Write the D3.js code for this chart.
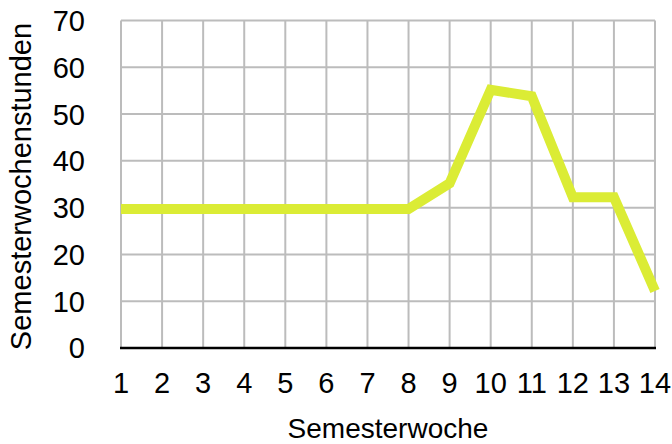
<!DOCTYPE html>
<html>
<head>
<meta charset="utf-8">
<script src="https://cdn.jsdelivr.net/npm/d3@7"></script>
<style>
  html, body { margin: 0; padding: 0; background: #fff; }
  text { font-family: "Liberation Sans", Arial, Helvetica, sans-serif; fill: #000; }
</style>
</head>
<body>
<div id="chart"></div>
<script>
// Semesterwochenstunden pro Semesterwoche
const weeks = [1, 2, 3, 4, 5, 6, 7, 8, 9, 10, 11, 12, 13, 14];
const hours = [29.7, 29.7, 29.7, 29.7, 29.7, 29.7, 29.7, 29.7, 35.2, 55.2, 53.8, 32.2, 32.2, 12.2];
const yTicks = [0, 10, 20, 30, 40, 50, 60, 70];

const width = 672, height = 444;
const m = { top: 20.5, right: 17, bottom: 96, left: 121 };
const iw = width - m.left - m.right;
const ih = height - m.top - m.bottom;

const svg = d3.select("#chart").append("svg")
  .attr("width", width).attr("height", height).attr("viewBox", `0 0 ${width} ${height}`);
const g = svg.append("g").attr("transform", `translate(${m.left},${m.top})`);

const x = d3.scaleLinear().domain([1, 14]).range([0, iw]);
const y = d3.scaleLinear().domain([0, 70]).range([ih, 0]);

// grid
g.append("g").selectAll("line").data(yTicks.filter((d) => d > 0)).join("line")
  .attr("x1", 0).attr("x2", iw).attr("y1", (d) => y(d)).attr("y2", (d) => y(d))
  .attr("stroke", "#bcbcbc").attr("stroke-width", 2);
g.append("g").selectAll("line").data(weeks).join("line")
  .attr("x1", (d) => x(d)).attr("x2", (d) => x(d)).attr("y1", 0).attr("y2", ih)
  .attr("stroke", "#bcbcbc").attr("stroke-width", 2);

// x axis line
g.append("line").attr("x1", -1).attr("x2", iw + 1).attr("y1", ih).attr("y2", ih)
  .attr("stroke", "#000").attr("stroke-width", 2.5);

// series
g.append("path").datum(weeks.map((w, i) => [w, hours[i]]))
  .attr("fill", "none").attr("stroke", "#dbec35").attr("stroke-width", 10)
  .attr("stroke-linejoin", "miter").attr("stroke-linecap", "butt")
  .attr("d", d3.line().x((d) => x(d[0])).y((d) => y(d[1])));

// tick labels
g.append("g").selectAll("text").data(yTicks).join("text")
  .attr("x", -36).attr("y", (d) => y(d)).attr("dy", "0.36em")
  .attr("text-anchor", "end").attr("font-size", 29)
  .text((d) => d);
g.append("g").selectAll("text").data(weeks).join("text")
  .attr("x", (d) => x(d)).attr("y", ih + 45)
  .attr("text-anchor", "middle").attr("font-size", 29)
  .text((d) => d);

// titles
svg.append("text").attr("x", m.left + iw / 2).attr("y", 438)
  .attr("text-anchor", "middle").attr("font-size", 28).text("Semesterwoche");
svg.append("text").attr("transform", `translate(31,186.5) rotate(-90)`)
  .attr("text-anchor", "middle").attr("font-size", 29).text("Semesterwochenstunden");
</script>
</body>
</html>
